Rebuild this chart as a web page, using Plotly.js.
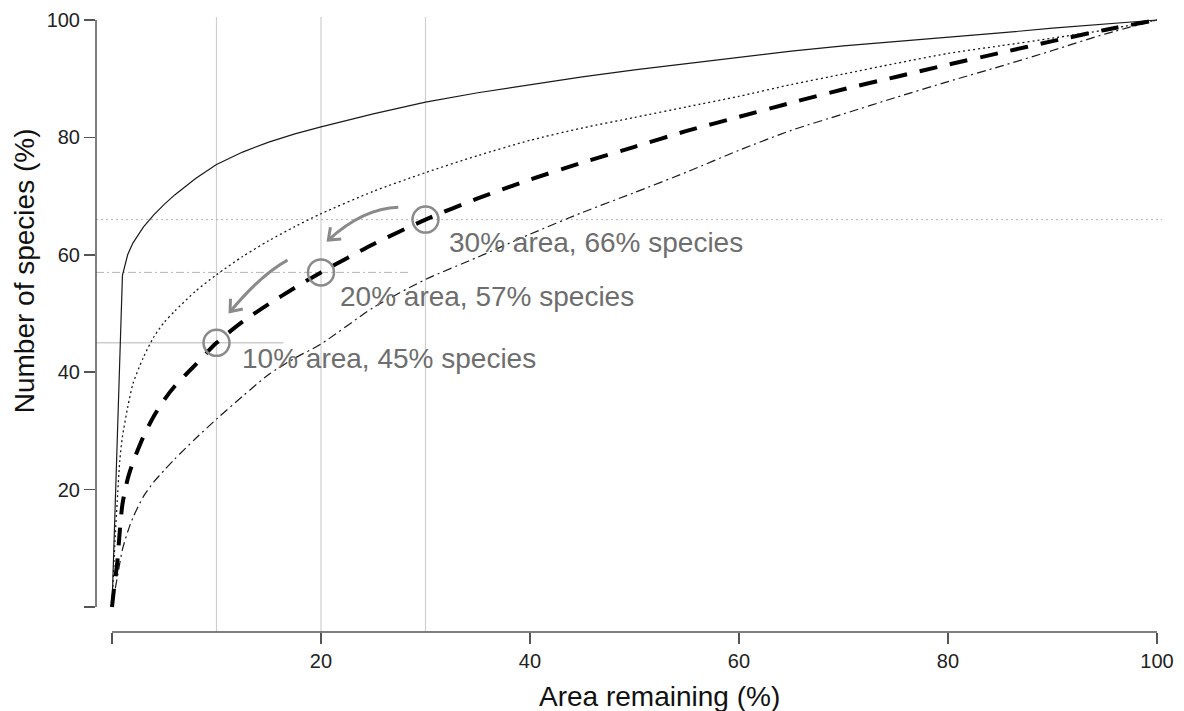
<!DOCTYPE html>
<html>
<head>
<meta charset="utf-8">
<script src="https://cdn.plot.ly/plotly-3.0.1.min.js"></script>
<style>html,body{margin:0;padding:0;background:#fff;}#chart{width:1184px;height:711px;}</style>
</head>
<body>
<div id="chart"></div>
<script>
// ---- data ----
const areaPct = [0, 0.25, 0.5, 0.75, 1, 1.5, 2, 3, 4, 5, 6, 8, 10, 12.5, 15, 17.5, 20, 25, 30, 35, 40, 45, 50, 55, 60, 65, 70, 75, 80, 85, 90, 95, 100];
const curveSolid = [0, 14, 28, 42, 56.5, 60, 62, 64.7, 66.8, 68.6, 70.2, 73, 75.4, 77.5, 79.2, 80.6, 81.8, 84, 86, 87.6, 89, 90.3, 91.5, 92.6, 93.7, 94.7, 95.6, 96.3, 97, 97.8, 98.6, 99.3, 100];
const curveDotted = [0, 10, 18, 25, 29, 34, 38, 42.5, 46, 48.5, 50.4, 53.8, 56.6, 59.7, 62.4, 64.8, 67, 70.8, 74, 76.9, 79.5, 81.6, 83.4, 85.2, 87, 89, 90.8, 92.6, 94.3, 95.6, 96.9, 98.3, 100];
const curveDashed = [0, 4, 7.5, 13, 17.5, 21.8, 24.6, 29, 32.5, 35.3, 37.6, 41.3, 45, 48.6, 51.6, 54.4, 57, 61.8, 66, 69.6, 72.8, 75.7, 78.4, 81.1, 83.5, 85.9, 88.2, 90.3, 92.4, 94.4, 96.4, 98.3, 100];
const curveDashDot = [0, 2.5, 5, 7.5, 9.8, 12.8, 15.2, 18.8, 21.3, 23.3, 25.2, 28.7, 32, 35.9, 39.6, 42.4, 44.8, 51, 55.8, 59.6, 63.5, 67.2, 70.6, 74.1, 77.8, 81.2, 84, 86.8, 89.5, 92.1, 94.8, 97.6, 100];

const markArea = [10, 20, 30];
const markSpecies = [45, 57, 66];
const markLabels = ['10% area, 45% species', '20% area, 57% species', '30% area, 66% species'];
const refLineEnd = [16.4, 28.5, 100.48];      // horizontal guide line ends (x)
const refLineDash = ['solid', 'dashdot', 'dot'];
const gridX = [10, 20, 30];

const xTickVals = [0, 20, 40, 60, 80, 100];
const xTickText = ['', '20', '40', '60', '80', '100'];
const yTickVals = [0, 20, 40, 60, 80, 100];
const yTickText = ['', '20', '40', '60', '80', '100'];

// curved arrows: start, control, end (data units)
const arrowStart = [[27.4, 68.1], [16.8, 59.1]];
const arrowCtrl  = [[24.0, 67.9], [14.3, 56.7]];
const arrowEnd   = [[20.7, 62.5], [11.3, 50.3]];

// ---- layout geometry ----
const W = 1184, H = 711;
const M = {l: 96, r: 22, t: 17, b: 79, pad: 0};
const xr = [-1.53, 100.48];
const yr = [-4.26, 100.51];
const pw = W - M.l - M.r, ph = H - M.t - M.b;
const sx = pw / (xr[1] - xr[0]);
const sy = ph / (yr[1] - yr[0]);

const FONT = '"Liberation Sans", Arial, Helvetica, sans-serif';
const GREY = '#8a8a8a';

const traces = [
  {x: areaPct, y: curveSolid, mode: 'lines', line: {color: '#1a1a1a', width: 1.2}, hoverinfo: 'skip'},
  {x: areaPct, y: curveDotted, mode: 'lines', line: {color: '#1a1a1a', width: 1.3, dash: '2px,3px', shape: 'spline', smoothing: 0.7}, hoverinfo: 'skip'},
  {x: areaPct, y: curveDashDot, mode: 'lines', line: {color: '#1a1a1a', width: 1.2, dash: '9px,4px,2px,4px', shape: 'spline', smoothing: 0.7}, hoverinfo: 'skip'},
  {x: areaPct, y: curveDashed, mode: 'lines', line: {color: '#000', width: 4, dash: '18px,13px', shape: 'spline', smoothing: 0.7}, hoverinfo: 'skip'},
  {x: markArea, y: markSpecies, mode: 'markers', marker: {symbol: 'circle-open', size: 26, color: GREY, line: {width: 2.5, color: GREY}}, hoverinfo: 'skip'}
];

const shapes = [];
gridX.forEach(g => shapes.push({type: 'line', xref: 'x', yref: 'paper', x0: g, x1: g, y0: 0, y1: 1, layer: 'below', line: {color: '#cfcfcf', width: 1.2}}));
markSpecies.forEach((s, i) => shapes.push({type: 'line', xref: 'x', yref: 'y', x0: xr[0], x1: refLineEnd[i], y0: s, y1: s, layer: 'below', line: {color: '#b5b5b5', width: 1, dash: refLineDash[i] === 'dashdot' ? '8px,3px,2px,3px' : (refLineDash[i] === 'dot' ? '2px,3px' : 'solid')}}));
// detached axis lines
shapes.push({type: 'line', xref: 'paper', yref: 'y', x0: 0, x1: 0, y0: 0, y1: 100, line: {color: '#555', width: 1.5}});
shapes.push({type: 'line', xref: 'x', yref: 'paper', x0: 0, x1: 100, y0: 0, y1: 0, line: {color: '#555', width: 1.5}});

// curved arrows with open heads
arrowStart.forEach((p0, i) => {
  const c = arrowCtrl[i], p1 = arrowEnd[i];
  shapes.push({type: 'path', xref: 'x', yref: 'y', path: `M${p0[0]},${p0[1]} Q${c[0]},${c[1]} ${p1[0]},${p1[1]}`, line: {color: GREY, width: 3}});
  let dx = (p1[0] - c[0]) * sx, dy = -(p1[1] - c[1]) * sy;
  const L = Math.hypot(dx, dy); dx /= L; dy /= L;
  const arm = 13, ang = 38 * Math.PI / 180;
  const pts = [-1, 1].map(s => {
    const bx = -dx, by = -dy;
    const rx = bx * Math.cos(s * ang) - by * Math.sin(s * ang);
    const ry = bx * Math.sin(s * ang) + by * Math.cos(s * ang);
    return [p1[0] + rx * arm / sx, p1[1] - ry * arm / sy];
  });
  shapes.push({type: 'path', xref: 'x', yref: 'y', path: `M${pts[0][0]},${pts[0][1]} L${p1[0]},${p1[1]} L${pts[1][0]},${pts[1][1]}`, line: {color: GREY, width: 3}});
});

const labelX = [12.26, 21.65, 32.1];
const labelY = [42.4, 52.9, 62.1];
const annotations = markLabels.map((t, i) => ({
  x: labelX[i], y: labelY[i], xref: 'x', yref: 'y', text: t, showarrow: false,
  xanchor: 'left', yanchor: 'middle', font: {family: FONT, size: 28, color: '#6e6e6e'}
}));
annotations.push({x: 52.4, y: -0.105, xref: 'x', yref: 'paper', text: 'Area remaining (%)', showarrow: false,
  xanchor: 'center', yanchor: 'middle', font: {family: FONT, size: 28, color: '#111'}});
annotations.push({x: -0.0675, y: 57.2, xref: 'paper', yref: 'y', text: 'Number of species (%)', showarrow: false, textangle: -90,
  xanchor: 'center', yanchor: 'middle', font: {family: FONT, size: 28, color: '#111'}});

const layout = {
  width: W, height: H, margin: M, showlegend: false,
  paper_bgcolor: '#fff', plot_bgcolor: '#fff',
  font: {family: FONT, color: '#222'},
  xaxis: {range: xr, showgrid: false, zeroline: false, showline: false, ticks: 'outside', ticklen: 11, tickwidth: 1.5, tickcolor: '#555',
          tickvals: xTickVals, ticktext: xTickText, tickfont: {family: FONT, size: 20, color: '#222'}, fixedrange: true},
  yaxis: {range: yr, showgrid: false, zeroline: false, showline: false, ticks: 'outside', ticklen: 11, tickwidth: 1.5, tickcolor: '#555',
          tickvals: yTickVals, ticktext: yTickText, tickfont: {family: FONT, size: 20, color: '#222'}, fixedrange: true},
  shapes: shapes, annotations: annotations
};

Plotly.newPlot('chart', traces, layout, {staticPlot: true, displayModeBar: false});
</script>
</body>
</html>
